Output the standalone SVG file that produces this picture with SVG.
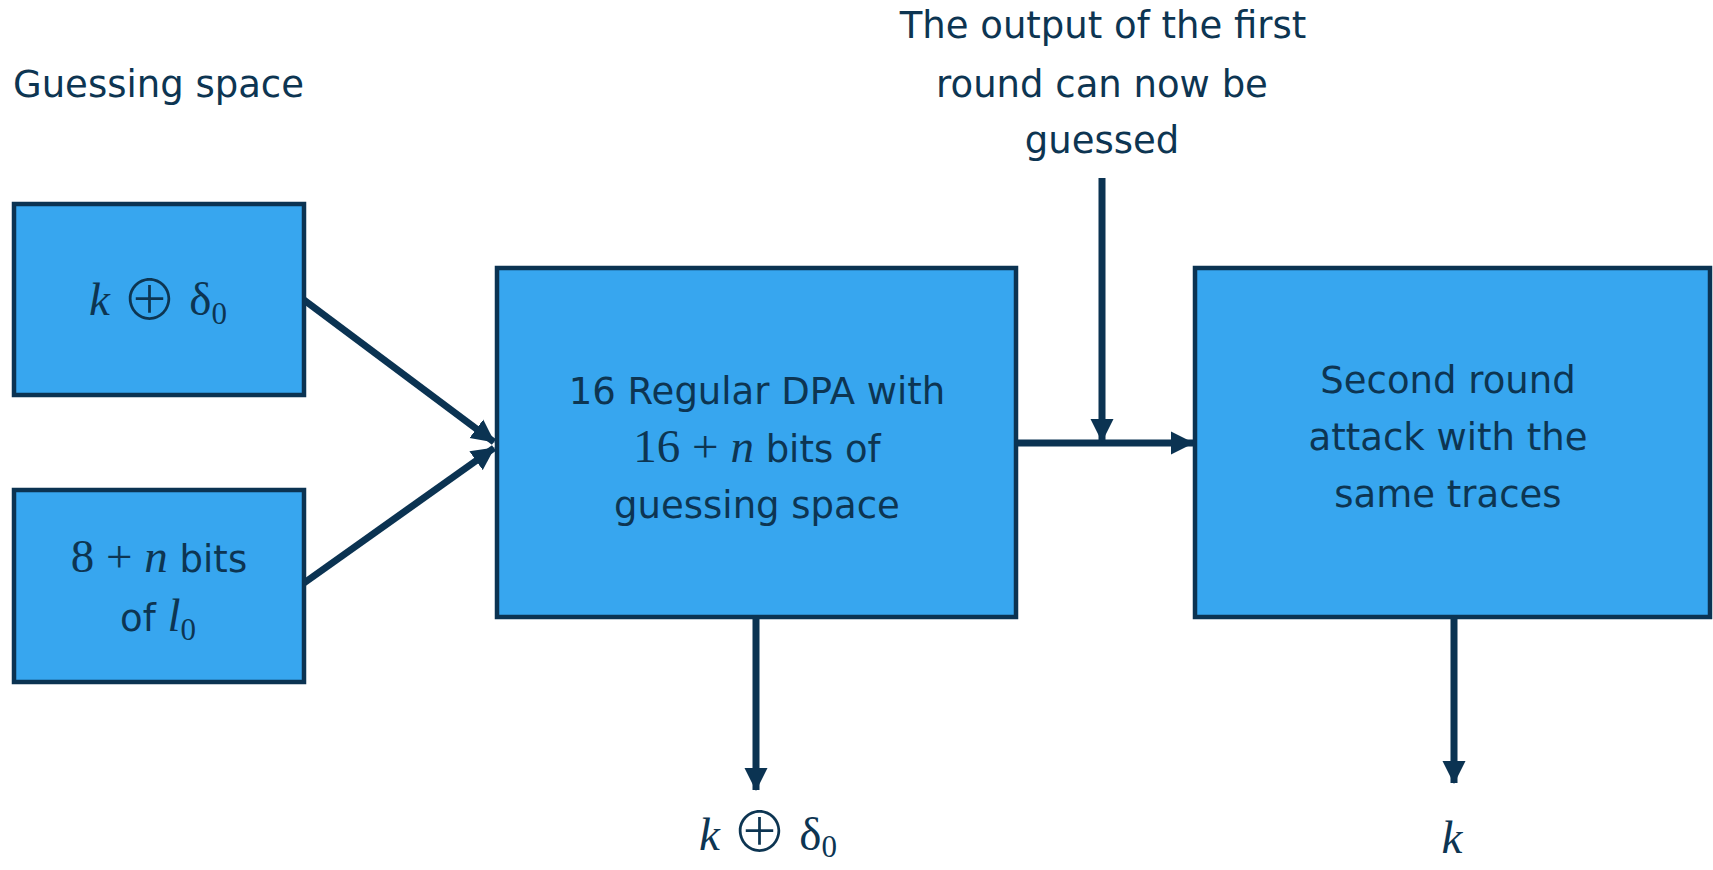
<svg xmlns="http://www.w3.org/2000/svg" width="1713" height="870" viewBox="0 0 1713 870">
<style>
.box{fill:#37A6EF;stroke:#0B3352;stroke-width:4.5}
.t{font-family:"DejaVu Sans","Liberation Sans",sans-serif;font-size:37px;fill:#0D3552}
.m{font-family:"Liberation Serif","DejaVu Serif",serif;font-size:47px;fill:#0D3552}
.i{font-style:italic}
.op{font-family:"Noto Sans CJK SC","DejaVu Sans",sans-serif;font-size:56px;font-weight:300}
.sub{font-size:31px}
.conn{stroke:#0B3352;stroke-width:7;fill:none}
</style>
<defs>
<marker id="ah" markerUnits="userSpaceOnUse" markerWidth="24" markerHeight="24" refX="22" refY="11.5" orient="auto" viewBox="0 0 24 23">
<path d="M0,0 L23,11.5 L0,23 z" fill="#0B3352"/>
</marker>
</defs>
<rect width="1713" height="870" fill="#fff"/>
<text class="t" x="13" y="97">Guessing space</text>
<g id="label-top" class="t" text-anchor="middle">
<text x="1103" y="38">The output of the first</text>
<text x="1102" y="97">round can now be</text>
<text x="1102" y="153">guessed</text>
</g>
<g id="connectors">
<line class="conn" x1="304" y1="300" x2="494" y2="442" marker-end="url(#ah)"/>
<line class="conn" x1="304" y1="583" x2="494" y2="448" marker-end="url(#ah)"/>
<line class="conn" x1="1016" y1="443" x2="1193" y2="443" marker-end="url(#ah)"/>
<line class="conn" x1="1102" y1="178" x2="1102" y2="441" marker-end="url(#ah)"/>
<line class="conn" x1="756" y1="619" x2="756" y2="790" marker-end="url(#ah)"/>
<line class="conn" x1="1454" y1="619" x2="1454" y2="783" marker-end="url(#ah)"/>
</g>
<g id="node-k-delta">
<rect class="box" x="14" y="204" width="290" height="191"/>
<text class="m" x="158" y="315" text-anchor="middle"><tspan class="i">k</tspan> <tspan class="op" dy="5">⊕</tspan> <tspan dy="-5">δ</tspan><tspan class="sub" dy="9">0</tspan></text>
</g>
<g id="node-l0">
<rect class="box" x="14" y="490" width="290" height="192"/>
<text x="159" y="572" text-anchor="middle"><tspan class="m">8 + </tspan><tspan class="m i">n</tspan><tspan class="t"> bits</tspan></text>
<text x="158" y="631" text-anchor="middle"><tspan class="t">of </tspan><tspan class="m i">l</tspan><tspan class="m sub" dy="9">0</tspan></text>
</g>
<g id="node-dpa">
<rect class="box" x="497" y="268" width="519" height="349"/>
<text class="t" x="757" y="404" text-anchor="middle">16 Regular DPA with</text>
<text x="757" y="462" text-anchor="middle"><tspan class="m">16 + </tspan><tspan class="m i">n</tspan><tspan class="t"> bits of</tspan></text>
<text class="t" x="757" y="518" text-anchor="middle">guessing space</text>
</g>
<g id="node-second">
<rect class="box" x="1195" y="268" width="515" height="349"/>
<text class="t" x="1448" y="393" text-anchor="middle">Second round</text>
<text class="t" x="1448" y="450" text-anchor="middle">attack with the</text>
<text class="t" x="1448" y="507" text-anchor="middle">same traces</text>
</g>
<g id="out-k-delta">
<text class="m" x="768" y="850" text-anchor="middle"><tspan class="i">k</tspan> <tspan class="op" dy="2">⊕</tspan> <tspan dy="-2">δ</tspan><tspan class="sub" dy="7">0</tspan></text>
</g>
<g id="out-k">
<text class="m i" x="1452" y="853" text-anchor="middle">k</text>
</g>
</svg>
